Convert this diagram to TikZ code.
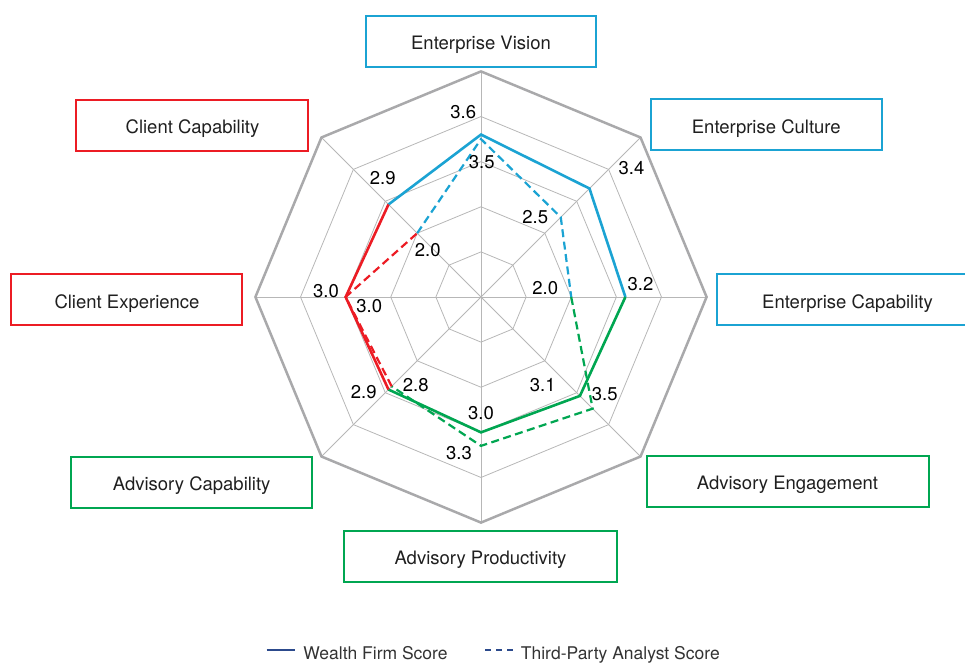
\documentclass[tikz,border=0pt]{standalone}
\usepackage{fontspec}
\setmainfont{TeX Gyre Heros}
\usetikzlibrary{arrows.meta,positioning,calc}

\definecolor{entblue}{HTML}{1BA3D3}
\definecolor{advgreen}{HTML}{00A651}
\definecolor{clired}{HTML}{EC1C24}
\definecolor{gridgray}{HTML}{B7B7B7}
\definecolor{rimgray}{HTML}{A9A9AB}
\definecolor{legnavy}{HTML}{2C4A8C}

\begin{document}
\begin{tikzpicture}[x=1pt,y=1pt,
  cat/.style={draw=#1,line width=2pt,minimum height=51pt,inner sep=0pt,
    text height=17pt,text depth=0pt,
    font=\fontsize{18.5}{22}\selectfont,text=black!88},
  val/.style={inner sep=0pt,font=\fontsize{18.5}{22}\selectfont},
  legtext/.style={inner sep=0pt,text=black!80,font=\fontsize{17.5}{21}\selectfont},
  gridline/.style={gridgray,line width=0.8pt},
  firm/.style={line width=2.6pt,line join=miter},
  third/.style={line width=2.2pt,dash pattern=on 8pt off 4.5pt}]

  \useasboundingbox (-481,-367) rectangle (484,297);

  % rings and spokes
  \foreach \r in {1,...,4}
    \draw[gridline] (90:\r*45.12) \foreach \a in {45,0,...,-225} { -- (\a:\r*45.12) } -- cycle;
  \foreach \a in {0,45,...,315}
    \draw[gridline] (0,0) -- (\a:225.6);
  \draw[rimgray,line width=2.5pt] (90:225.6) \foreach \a in {45,0,...,-225} { -- (\a:225.6) } -- cycle;

  % scores (firm / third party), clockwise from the top
  \foreach \n/\a/\f/\t in {1/90/3.6/3.5, 2/45/3.4/2.5, 3/0/3.2/2.0, 4/-45/3.1/3.5,
      5/-90/3.0/3.3, 6/-135/2.9/2.8, 7/180/3.0/3.0, 8/135/2.9/2.0} {
    \coordinate (f\n) at (\a:\f*45.12);
    \coordinate (t\n) at (\a:\t*45.12);
  }

  % firm score
  \draw[firm,entblue] (f8) -- (f1) -- (f2) -- (f3);
  \draw[firm,advgreen] (f3) -- (f4) -- (f5) -- (f6);
  \draw[firm,clired] (f6) -- (f7) -- (f8);

  % third-party score
  \draw[third,entblue] (t8) -- (t1) -- (t2) -- (t3);
  \draw[third,advgreen] (t3) -- (t4) -- (t5) -- (t6);
  \draw[third,clired] (t6) -- (t7) -- (t8);

  % value labels
  \node[val] (vf1) at (-17.8,185.3) {3.6};
  \node[val] (vt1) at (0.8,134.5) {3.5};
  \node[val] (vf2) at (150.5,128.7) {3.4};
  \node[val] (vt2) at (54.2,80.3) {2.5};
  \node[val] (vf3) at (159.5,12.8) {3.2};
  \node[val] (vt3) at (64.2,8.7) {2.0};
  \node[val] (vf4) at (61.8,-88) {3.1};
  \node[val] (vt4) at (123.8,-97.2) {3.5};
  \node[val] (vf5) at (0,-116.3) {3.0};
  \node[val] (vt5) at (-22,-156) {3.3};
  \node[val] (vf6) at (-117.2,-95.5) {2.9};
  \node[val] (vt6) at (-65.3,-88) {2.8};
  \node[val] (vf7) at (-155,6.3) {3.0};
  \node[val] (vt7) at (-111.7,-8.8) {3.0};
  \node[val] (vf8) at (-98.3,118.7) {2.9};
  \node[val] (vt8) at (-53.2,46.7) {2.0};

  % categories
  \node[cat=entblue,minimum width=230pt] (vision) at (0,255.5) {Enterprise Vision};
  \node[cat=entblue,minimum width=231pt] (culture) at (285.3,172.3) {Enterprise Culture};
  \node[cat=entblue,minimum width=262pt] (entcap) at (366.5,-2.5) {Enterprise Capability};
  \node[cat=advgreen,minimum width=282pt] (engage) at (306.5,-184.3) {Advisory Engagement};
  \node[cat=advgreen,minimum width=272pt] (prod) at (-0.5,-259) {Advisory Productivity};
  \node[cat=advgreen,minimum width=241pt] (advcap) at (-289.3,-185) {Advisory Capability};
  \node[cat=clired,minimum width=231pt] (clientexp) at (-354,-2.7) {Client Experience};
  \node[cat=clired,minimum width=232pt] (clientcap) at (-288.5,171.7) {Client Capability};

  % legend
  \node[legtext,anchor=base west] (lgfirm) at (-177.7,-362) {Wealth Firm Score};
  \node[legtext,anchor=base west] (lgthird) at (39.7,-362) {Third-Party Analyst Score};
  \coordinate (lgfa) at (-214.3,-353);
  \coordinate (lgfb) at (-186,-353);
  \coordinate (lgta) at (4,-353);
  \coordinate (lgtb) at (34,-353);
  \draw[legnavy,line width=1.8pt] (lgfa) -- (lgfb);
  \draw[legnavy,line width=1.8pt,dash pattern=on 6pt off 5pt] (lgta) -- (lgtb);

\end{tikzpicture}
\end{document}
